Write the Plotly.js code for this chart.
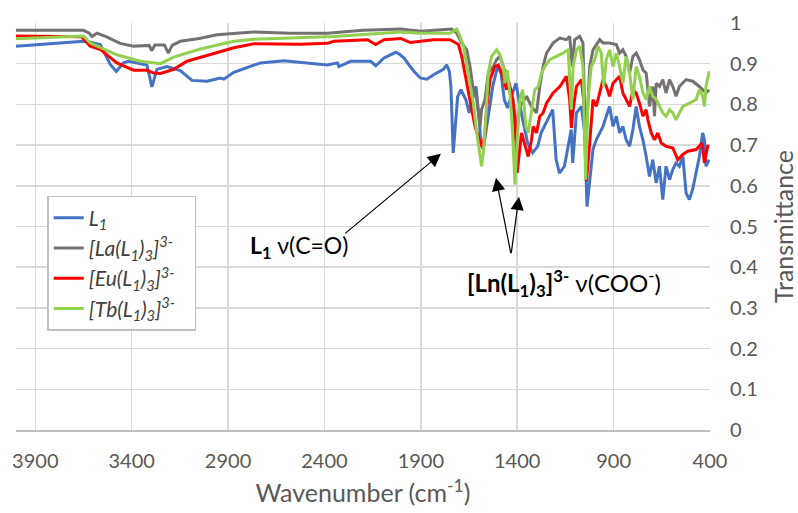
<!DOCTYPE html>
<html><head><meta charset="utf-8">
<script src="https://cdn.plot.ly/plotly-3.0.1.min.js"></script>
<style>html,body{margin:0;padding:0;background:#fff}#chart{width:798px;height:513px}</style>
</head><body><div id="chart"></div>
<script>
const seriesNames = ["<i>L<sub>1</sub></i>", "<i>[La(L<sub>1</sub>)<sub>3</sub>]<sup>3-</sup></i>&nbsp;&nbsp;&nbsp;", "<i>[Eu(L<sub>1</sub>)<sub>3</sub>]<sup>3-</sup></i>", "<i>[Tb(L<sub>1</sub>)<sub>3</sub>]<sup>3-</sup></i>"];
const seriesColors = ["#4472C4", "#767171", "#FF0000", "#92D050"];

const wnL1 = [4000,3650,3615,3563,3511,3480,3442,3416,3321,3295,3269,3217,3148,3087,3009,2940,2922,2870,2732,2611,2385,2333,2325,2264,2160,2134,2091,2030,2007,1987,1955,1935,1903,1869,1834,1783,1766,1752,1744,1732,1709,1692,1666,1649,1631,1614,1597,1588,1576,1553,1527,1502,1484,1467,1450,1432,1406,1389,1372,1346,1320,1294,1276,1242,1216,1198,1181,1155,1138,1120,1112,1093,1067,1050,1038,1024,1007,990,972,955,938,921,903,886,869,852,835,817,800,783,766,748,731,714,697,679,662,645,628,610,593,576,559,541,524,507,490,472,455,438,429,421,404];
const tL1 = [0.943,0.955,0.953,0.947,0.898,0.881,0.902,0.906,0.897,0.843,0.886,0.893,0.883,0.859,0.857,0.865,0.862,0.879,0.902,0.907,0.897,0.902,0.893,0.906,0.906,0.895,0.914,0.928,0.922,0.914,0.893,0.881,0.865,0.862,0.873,0.886,0.897,0.881,0.844,0.681,0.819,0.836,0.811,0.779,0.819,0.844,0.762,0.700,0.690,0.762,0.844,0.893,0.877,0.811,0.791,0.819,0.852,0.803,0.762,0.705,0.681,0.697,0.730,0.762,0.787,0.664,0.631,0.648,0.697,0.738,0.656,0.779,0.795,0.730,0.549,0.615,0.689,0.713,0.730,0.746,0.771,0.795,0.746,0.771,0.730,0.746,0.713,0.697,0.738,0.795,0.746,0.713,0.672,0.623,0.664,0.607,0.648,0.566,0.648,0.615,0.640,0.656,0.648,0.672,0.582,0.566,0.591,0.632,0.672,0.730,0.713,0.648,0.664];

const wnLa = [4000,3650,3620,3606,3580,3530,3460,3390,3310,3295,3280,3230,3210,3190,3148,3050,2957,2768,2576,2385,2200,2004,1900,1740,1714,1688,1662,1645,1628,1610,1593,1585,1567,1550,1524,1507,1490,1472,1455,1438,1421,1409,1386,1352,1326,1300,1283,1266,1248,1214,1179,1145,1128,1114,1102,1076,1059,1045,1024,1007,972,955,921,886,869,852,835,817,800,783,766,748,731,714,697,688,679,662,645,628,610,593,576,559,524,490,455,421,404];
const tLa = [0.982,0.982,0.975,0.967,0.975,0.966,0.950,0.943,0.945,0.932,0.946,0.946,0.926,0.945,0.955,0.962,0.971,0.978,0.975,0.975,0.982,0.985,0.980,0.985,0.975,0.951,0.934,0.893,0.836,0.812,0.746,0.787,0.812,0.877,0.893,0.910,0.918,0.893,0.869,0.828,0.812,0.713,0.795,0.820,0.795,0.779,0.844,0.893,0.926,0.951,0.963,0.959,0.967,0.893,0.959,0.967,0.951,0.689,0.893,0.934,0.959,0.951,0.951,0.947,0.926,0.934,0.918,0.877,0.918,0.926,0.910,0.885,0.877,0.795,0.844,0.771,0.852,0.844,0.861,0.828,0.861,0.844,0.820,0.844,0.861,0.857,0.844,0.828,0.836];

const wnEu = [4000,3660,3615,3563,3477,3390,3321,3286,3251,3182,3113,3044,2957,2870,2766,2524,2385,2351,2177,2134,2091,2004,1955,1834,1748,1722,1705,1688,1671,1653,1636,1619,1602,1585,1576,1567,1559,1541,1516,1498,1481,1464,1455,1447,1429,1412,1400,1378,1360,1343,1326,1317,1300,1283,1266,1248,1214,1179,1145,1128,1119,1110,1093,1067,1050,1041,1024,1007,990,972,955,938,921,903,869,852,817,800,783,766,748,731,722,705,688,671,653,628,593,567,541,516,472,441,429,412,404];
const tEu = [0.968,0.966,0.943,0.935,0.902,0.884,0.884,0.877,0.876,0.886,0.906,0.915,0.928,0.939,0.949,0.948,0.950,0.955,0.959,0.947,0.959,0.962,0.952,0.959,0.959,0.951,0.947,0.918,0.877,0.828,0.795,0.746,0.721,0.697,0.705,0.730,0.787,0.861,0.893,0.897,0.877,0.852,0.836,0.861,0.828,0.771,0.632,0.730,0.697,0.672,0.713,0.746,0.730,0.771,0.779,0.803,0.828,0.844,0.869,0.812,0.742,0.787,0.844,0.861,0.787,0.611,0.705,0.812,0.795,0.828,0.861,0.844,0.820,0.852,0.869,0.828,0.795,0.836,0.828,0.803,0.771,0.787,0.762,0.730,0.713,0.730,0.705,0.697,0.693,0.664,0.677,0.685,0.689,0.705,0.656,0.697,0.697];

const wnTb = [4000,3650,3615,3477,3355,3251,3182,3044,2870,2766,2351,2004,1900,1748,1714,1697,1679,1662,1645,1628,1610,1593,1585,1576,1562,1550,1533,1507,1490,1472,1464,1452,1438,1424,1412,1400,1386,1372,1355,1343,1326,1309,1291,1274,1257,1231,1197,1162,1136,1128,1119,1110,1093,1076,1059,1045,1033,1016,998,981,964,952,938,921,903,886,869,852,835,817,800,783,766,748,731,714,697,679,662,645,628,610,593,576,559,541,507,472,455,438,429,421,404];
const tTb = [0.961,0.968,0.951,0.922,0.906,0.900,0.916,0.936,0.955,0.960,0.967,0.978,0.975,0.975,0.985,0.967,0.943,0.893,0.844,0.803,0.730,0.664,0.648,0.681,0.771,0.877,0.918,0.934,0.922,0.893,0.852,0.885,0.828,0.730,0.603,0.713,0.812,0.836,0.746,0.730,0.787,0.836,0.844,0.877,0.893,0.910,0.918,0.926,0.934,0.877,0.787,0.893,0.934,0.943,0.893,0.615,0.812,0.893,0.910,0.943,0.926,0.844,0.910,0.934,0.893,0.926,0.893,0.852,0.918,0.877,0.812,0.893,0.869,0.828,0.812,0.844,0.820,0.812,0.795,0.779,0.771,0.787,0.779,0.762,0.779,0.795,0.803,0.812,0.836,0.820,0.795,0.844,0.881];

const xTickVals = [3900,3400,2900,2400,1900,1400,900,400];
const yTickVals = [0,0.1,0.2,0.3,0.4,0.5,0.6,0.7,0.8,0.9,1];

const xs = [wnL1, wnLa, wnEu, wnTb];
const ys = [tL1, tLa, tEu, tTb];
const traces = xs.map((x, i) => ({
  type: 'scatter', mode: 'lines', x: x, y: ys[i], name: seriesNames[i],
  line: {color: seriesColors[i], width: 3}
}));

const F = 'Lato, "Open Sans", sans-serif';
const layout = {
  width: 798, height: 513,
  margin: {l: 16, r: 88, t: 23, b: 83},
  paper_bgcolor: '#fff', plot_bgcolor: '#fff',
  font: {family: F, color: '#595959', size: 20},
  showlegend: true,
  legend: {
    x: 0.045, y: 0.575, xanchor: 'left', yanchor: 'top',
    bgcolor: '#fff', bordercolor: '#bfbfbf', borderwidth: 1.5,
    font: {family: F, size: 21, color: '#404040'},
    tracegroupgap: 0, itemwidth: 30
  },
  xaxis: {
    range: [4000, 400], tickvals: xTickVals, ticktext: xTickVals.map(String),
    showgrid: true, gridcolor: '#d9d9d9', gridwidth: 1.5,
    zeroline: false, showline: true, linecolor: '#bfbfbf', linewidth: 1.5,
    ticks: '', ticklabelstandoff: 12, tickfont: {size: 20, color: '#595959'},
    title: {text: 'Wavenumber (cm<sup>-1</sup>)', font: {size: 25, color: '#595959'}, standoff: 14}
  },
  yaxis: {
    range: [0, 1], side: 'right', tickvals: yTickVals, ticktext: yTickVals.map(v => String(v)),
    showgrid: true, gridcolor: '#d9d9d9', gridwidth: 1.5,
    zeroline: false, showline: false, ticks: '', ticklabelstandoff: 19,
    tickfont: {size: 20, color: '#595959'},
    title: {text: 'Transmittance', font: {size: 25, color: '#595959'}, standoff: 18}
  },
  annotations: [
    {x: 1796, y: 0.679, xref: 'x', yref: 'y', ax: 2300, ay: 0.48, axref: 'x', ayref: 'y',
     text: '', showarrow: true, arrowhead: 2, arrowsize: 2.2, arrowwidth: 1.2, arrowcolor: '#000', standoff: 0},
    {x: 1510, y: 0.62, xref: 'x', yref: 'y', ax: 1432, ay: 0.431, axref: 'x', ayref: 'y',
     text: '', showarrow: true, arrowhead: 2, arrowsize: 2.2, arrowwidth: 1.2, arrowcolor: '#000', standoff: 0},
    {x: 1391, y: 0.573, xref: 'x', yref: 'y', ax: 1432, ay: 0.431, axref: 'x', ayref: 'y',
     text: '', showarrow: true, arrowhead: 2, arrowsize: 2.2, arrowwidth: 1.2, arrowcolor: '#000', standoff: 0},
    {x: 2534, y: 0.452, xref: 'x', yref: 'y', showarrow: false,
     text: '<b>L<sub>1</sub></b> ν(C=O)', font: {family: F, size: 23, color: '#000'}},
    {x: 1157, y: 0.360, xref: 'x', yref: 'y', showarrow: false,
     text: '<b>[Ln(L<sub>1</sub>)<sub>3</sub>]<sup>3-</sup></b> ν(COO<sup>-</sup>)', font: {family: F, size: 24, color: '#000'}}
  ]
};
Plotly.newPlot('chart', traces, layout, {displayModeBar: false, staticPlot: true});
</script></body></html>
